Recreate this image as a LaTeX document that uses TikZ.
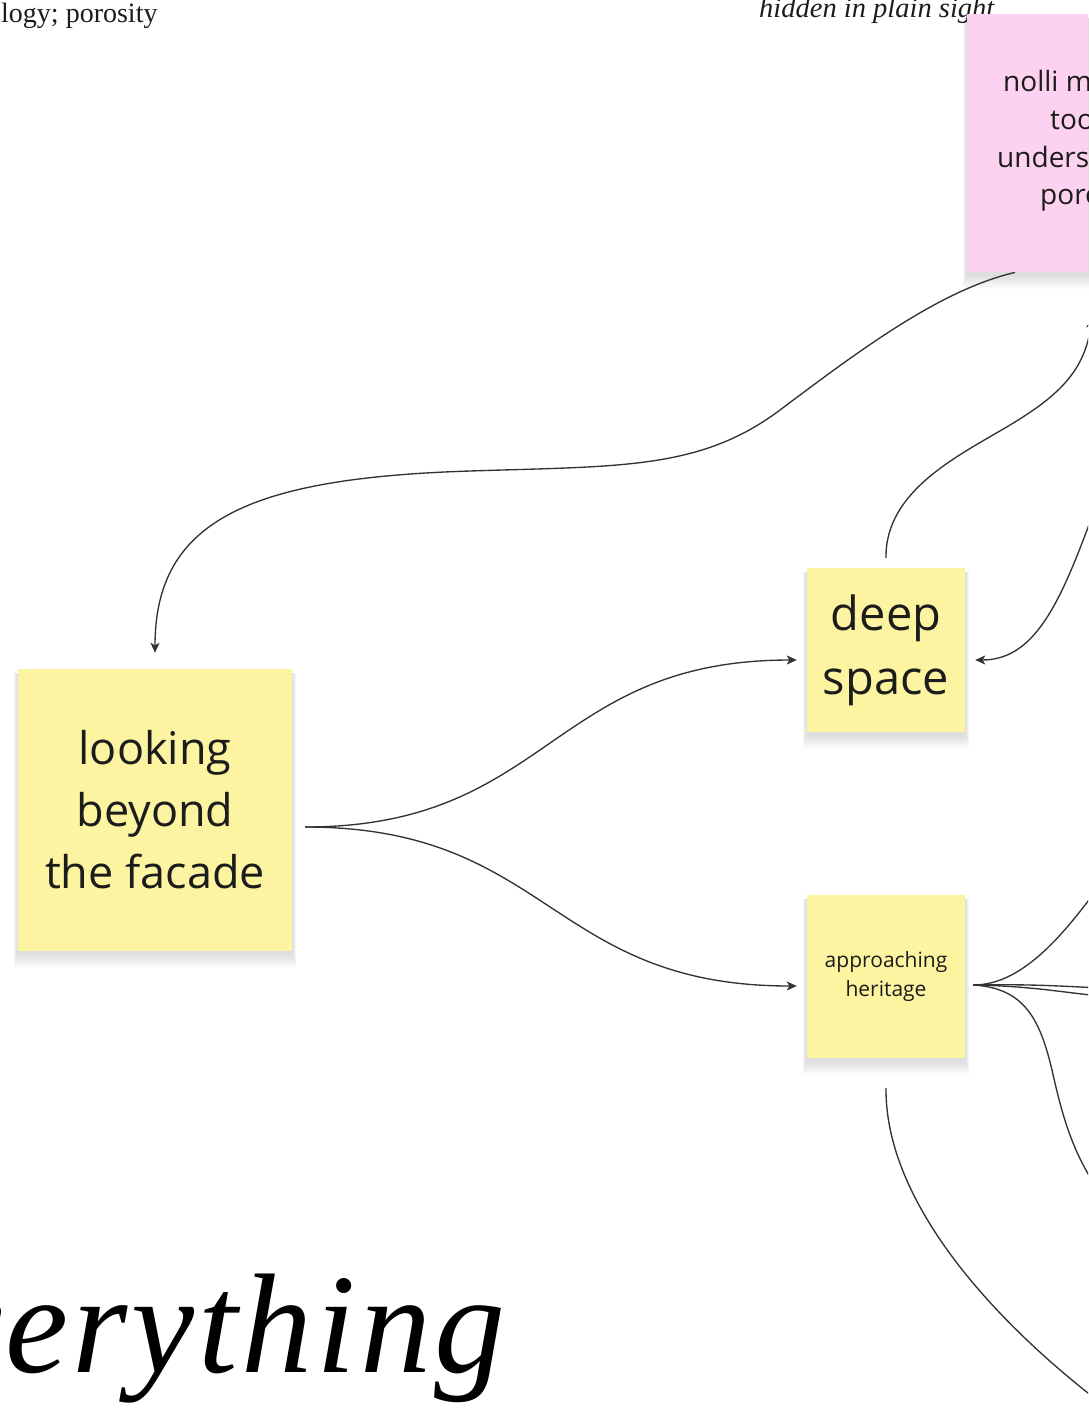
\documentclass[tikz,border=0pt]{standalone}
\usepackage{fontspec}
\setmainfont{Liberation Serif}
\newfontfamily\notefont{Open Sans}
\newfontfamily\titlefont[LetterSpace=2.7]{Liberation Serif}
\usetikzlibrary{arrows.meta,backgrounds}
\definecolor{noteyellow}{HTML}{FCF4A0}
\definecolor{notepink}{HTML}{FDD1F0}
\definecolor{linegrey}{HTML}{333333}
\definecolor{inkblack}{HTML}{1C1C1C}
\tikzset{
  note/.style={rectangle, inner sep=0pt, align=center, text=inkblack},
  yellownote/.style={note, fill=noteyellow},
  pinknote/.style={note, fill=notepink},
  notetext/.style={inner sep=0pt, text=inkblack, anchor=base west},
  conn/.style={draw=linegrey, line width=1.35pt},
  arrowed/.style={conn, -{Stealth[length=10pt,width=9pt,inset=2.5pt]}},
  seriflabel/.style={inner sep=0pt, text=inkblack},
}
\begin{document}
\begin{tikzpicture}[x=1pt,y=-1pt]
\useasboundingbox (0,0) rectangle (1088,1427);
\clip (0,0) rectangle (1088,1427);

% headings
\node[seriflabel, anchor=base west, font=\fontsize{28}{33}\selectfont] (topleft) at (1,22) {logy; porosity};
\node[seriflabel, anchor=base west, font=\itshape\fontsize{28.5}{33}\selectfont] (topright) at (759,17) {hidden in plain sight};

% notes
\node[yellownote, minimum width=274pt, minimum height=282pt, font=\notefont\fontsize{45}{62}\selectfont] (looking) at (155,810) {looking\\beyond\\the facade};
\node[yellownote, minimum width=158pt, minimum height=164pt, font=\notefont\fontsize{47}{64}\selectfont] (deep) at (886,650) {deep\\space};
\node[yellownote, minimum width=158pt, minimum height=163pt, font=\notefont\fontsize{21}{29}\selectfont] (heritage) at (886,976.5) {approaching\\heritage};
\node[pinknote, minimum width=260pt, minimum height=258pt, anchor=north west] (nolli) at (967,14) {};
\node[notetext, font=\notefont\fontsize{28}{38}\selectfont] (nolliA) at (1003,91) {nolli m};
\node[notetext, font=\notefont\fontsize{28}{38}\selectfont] (nolliB) at (1050,129) {too};
\node[notetext, font=\notefont\fontsize{28}{38}\selectfont] (nolliC) at (997,167) {unders};
\node[notetext, font=\notefont\fontsize{28}{38}\selectfont] (nolliD) at (1040,204) {poro};

% shadows
\begin{scope}[on background layer]
\foreach \n in {looking,deep,heritage,nolli} {
  \foreach \i in {1,...,7} {
    \fill[black, opacity=0.02] ([xshift={-0.6pt*\i}, yshift=-4pt]\n.north west) rectangle ([xshift={0.6pt*\i}, yshift={-1pt-2.2pt*\i}]\n.south east);
  }
}
\end{scope}

% off-canvas ends
\coordinate (offA) at (1092,318);
\coordinate (offB) at (1100,495);
\coordinate (offC) at (1100,885);
\coordinate (offD) at (1100,988);
\coordinate (offE) at (1100,996);
\coordinate (offF) at (1095,1185);
\coordinate (offG) at (1110,1410);

% connectors
\draw[arrowed] ([xshift=48pt]nolli.south west) .. controls (940,290) and (860,350) .. (780,410) .. controls (700,470) and (620,466) .. (470,471) .. controls (250,478) and (155,520) .. ([yshift=16pt]looking.north);
\draw[arrowed] ([shift={(13pt,-17pt)}]looking.east) .. controls (550,827) and (550,660) .. ([shift={(-10pt,-10pt)}]deep.west);
\draw[arrowed] ([shift={(13pt,-17pt)}]looking.east) .. controls (550,827) and (550,986) .. ([shift={(-10pt,-9.5pt)}]heritage.west);
\draw[arrowed] ([yshift=10pt]deep.north) .. controls (885,490) and (960,455) .. (1010,425) .. controls (1060,395) and (1085,370) .. (offA);
\draw[arrowed] (offB) .. controls (1065,590) and (1040,660) .. ([shift={(10pt,-10pt)}]deep.east);
\draw[conn] ([shift={(8pt,-8.5pt)}]heritage.east) .. controls (1020,985) and (1060,940) .. (offC);
\draw[conn] ([shift={(8pt,-8.5pt)}]heritage.east) .. controls (1030,984) and (1060,986) .. (offD);
\draw[conn] ([shift={(8pt,-8.5pt)}]heritage.east) .. controls (1030,986) and (1060,992) .. (offE);
\draw[conn] ([shift={(8pt,-8.5pt)}]heritage.east) .. controls (1025,988) and (1040,1020) .. (1052,1070) .. controls (1062,1115) and (1072,1150) .. (offF);
\draw[conn] ([yshift=-30pt]heritage.south) .. controls (885,1200) and (990,1320) .. (offG);

% big title
\node[seriflabel, anchor=base east, font=\titlefont\itshape\fontsize{142}{150}\selectfont, text=black] (everything) at (506,1372) {verything};
\end{tikzpicture}
\end{document}
